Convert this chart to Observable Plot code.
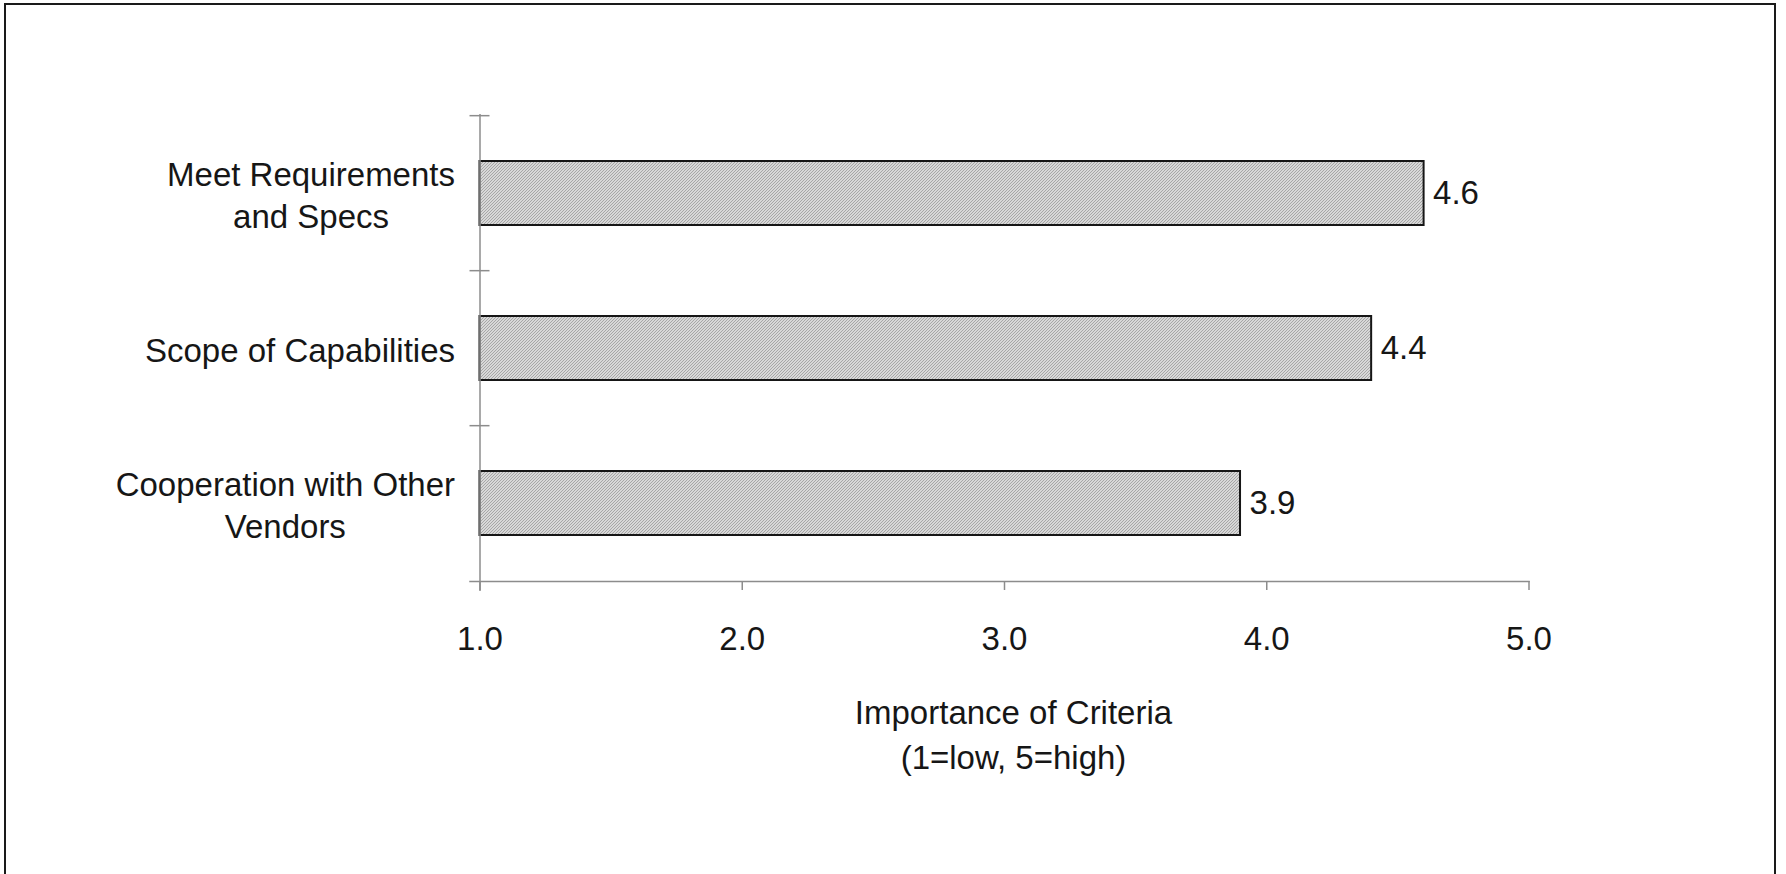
<!DOCTYPE html>
<html>
<head>
<meta charset="utf-8">
<script src="https://cdn.jsdelivr.net/npm/d3@7"></script>
<script src="https://cdn.jsdelivr.net/npm/@observablehq/plot@0.6"></script>
<style>
  html, body { margin: 0; padding: 0; background: #ffffff; overflow: hidden; }
  #page { position: relative; width: 1786px; height: 874px; }
  #border { position: absolute; left: 4px; top: 3px; width: 1768px; height: 1000px;
            border: 2px solid #1a1a1a; box-sizing: content-box; }
  #chart { position: absolute; left: 0; top: 0; }
</style>
</head>
<body>
<div id="page">
  <div id="border"></div>
  <div id="chart"></div>
</div>
<script>
// Survey criteria and their mean importance ratings (1 = low, 5 = high)
const categories = ["Meet Requirements and Specs", "Scope of Capabilities", "Cooperation with Other Vendors"];
const categoryLabels = ["Meet Requirements\nand Specs", "Scope of Capabilities", "Cooperation with Other\nVendors"];
const importance = [4.6, 4.4, 3.9];
const xTicks = [1, 2, 3, 4, 5];
const axisTitle = "Importance of Criteria\n(1=low, 5=high)";

const rows = categories.map((c, i) => ({cat: c, label: categoryLabels[i], value: importance[i]}));

const W = 1786, H = 874;
const mTop = 114, mBottom = 293, mLeft = 479.5, mRight = 257.5;
const step = (H - mTop - mBottom) / categories.length;
const font = 33;
const fontFamily = "'Liberation Sans', Arial, sans-serif";
const axisGrey = "#8c8c8c";
const ink = "#161616";

// width of the longest line of a label, so multi-line labels can be centred
// as a block that ends just left of the axis
const ctx = document.createElement("canvas").getContext("2d");
ctx.font = `${font}px ${fontFamily}`;
const blockWidth = s => d3.max(s.split("\n"), line => ctx.measureText(line).width);
const labelGap = 25;

const plot = Plot.plot({
  width: W,
  height: H,
  marginTop: mTop,
  marginBottom: mBottom,
  marginLeft: mLeft,
  marginRight: mRight,
  style: {fontFamily, background: "transparent", color: ink},
  x: {domain: [1, 5]},
  y: {domain: categories, axis: null, paddingInner: 0.59, paddingOuter: 0.295},
  marks: [
    // bars, starting at the 1.0 baseline
    Plot.barX(rows, {y: "cat", x1: 1, x2: "value", fill: "url(#stipple)", stroke: ink, strokeWidth: 2}),
    // value axis line and ticks
    Plot.frame({anchor: "bottom", stroke: axisGrey, strokeWidth: 1.5, insetLeft: -10}),
    Plot.axisX({ticks: xTicks, tickFormat: d3.format(".1f"), tickSize: 9, tickPadding: 36,
                stroke: axisGrey, strokeWidth: 1.5, fill: ink, fontSize: font, label: null}),
    // category axis line and band-boundary ticks
    Plot.ruleX([1], {stroke: axisGrey, strokeWidth: 1.5, insetBottom: -10}),
    Plot.ruleY(categories, {y: d => d, x1: 1, x2: 1, insetLeft: -10, insetRight: -10,
                            dy: -step / 2, stroke: axisGrey, strokeWidth: 1.5}),
    // category labels, each centred as a block
    ...rows.map(r => Plot.text([r], {y: "cat", x: 1, text: "label", textAnchor: "middle",
                                     dx: -labelGap - blockWidth(r.label) / 2,
                                     lineHeight: 1.28, fontSize: font, fill: ink})),
    // value labels
    Plot.text(rows, {y: "cat", x: "value", text: d => d.value.toFixed(1), textAnchor: "start",
                     dx: 9, fontSize: font, fill: ink}),
    // axis title
    Plot.text([axisTitle], {text: d => d, frameAnchor: "bottom", dx: 9, dy: 151,
                            lineAnchor: "middle", lineHeight: 1.35, fontSize: font, fill: ink})
  ]
});

// stippled grey fill used by the bars
const svgNS = "http://www.w3.org/2000/svg";
const defs = document.createElementNS(svgNS, "defs");
const pat = document.createElementNS(svgNS, "pattern");
pat.setAttribute("id", "stipple");
pat.setAttribute("patternUnits", "userSpaceOnUse");
pat.setAttribute("width", 3);
pat.setAttribute("height", 3);
const bg = document.createElementNS(svgNS, "rect");
bg.setAttribute("width", 3); bg.setAttribute("height", 3); bg.setAttribute("fill", "#d8d8d8");
pat.appendChild(bg);
for (let k = 0; k < 3; k++) {
  const dot = document.createElementNS(svgNS, "rect");
  dot.setAttribute("x", k); dot.setAttribute("y", 2 - k);
  dot.setAttribute("width", 1); dot.setAttribute("height", 1);
  dot.setAttribute("fill", "#a6a6a6");
  pat.appendChild(dot);
}
defs.appendChild(pat);
plot.insertBefore(defs, plot.firstChild);

document.getElementById("chart").appendChild(plot);
</script>
</body>
</html>
